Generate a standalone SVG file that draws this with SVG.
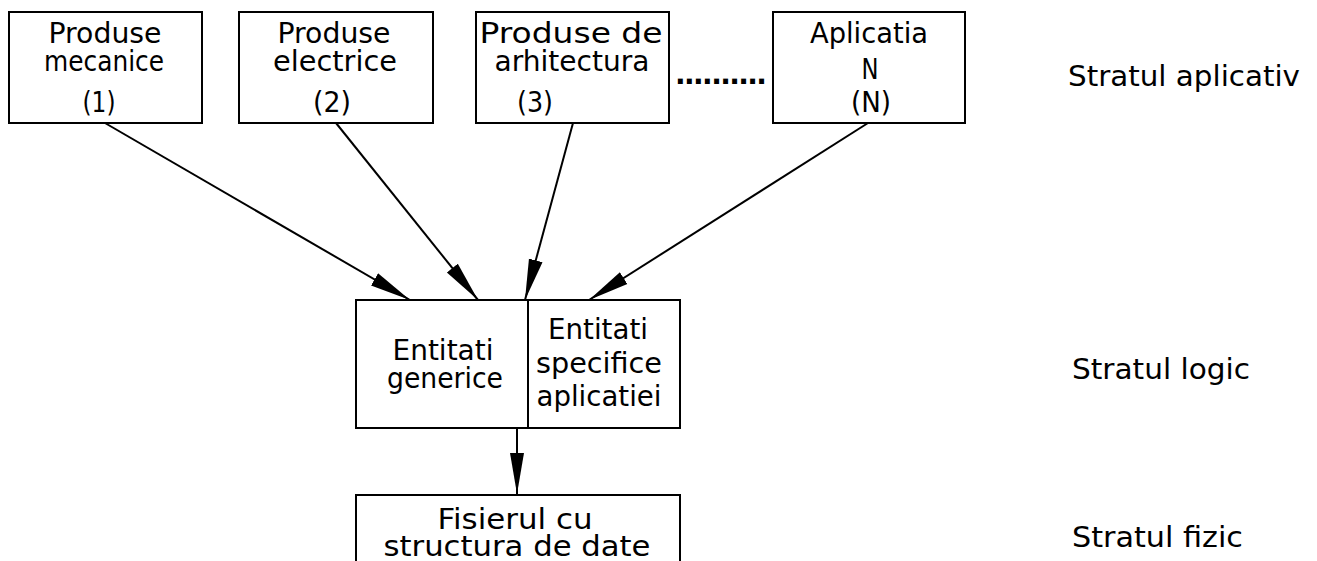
<svg xmlns="http://www.w3.org/2000/svg" width="1317" height="561" viewBox="0 0 1317 561">
  <defs>
    <style>
      .box { fill: #fff; stroke: #000; stroke-width: 2; }
      .lbl { font-family: "DejaVu Sans", "Liberation Sans", sans-serif; font-size: 28px; fill: #000; text-anchor: middle; }
      .side { font-family: "DejaVu Sans", "Liberation Sans", sans-serif; font-size: 28px; fill: #000; }
      .conn { stroke: #000; stroke-width: 2; fill: none; marker-end: url(#head); }
    </style>
    <marker id="head" markerUnits="userSpaceOnUse" markerWidth="42" markerHeight="16" viewBox="0 0 42 16" refX="41" refY="8" orient="auto">
      <path d="M0,1 L41,8 L0,15 Z" fill="#000"/>
    </marker>
  </defs>

  <rect width="1317" height="561" fill="#fff"/>

  <!-- application layer nodes -->
  <g id="app1">
    <rect class="box" x="9" y="12" width="193" height="111"/>
    <text class="lbl" x="105" y="43" textLength="113" lengthAdjust="spacingAndGlyphs">Produse</text>
    <text class="lbl" x="104" y="71" textLength="120" lengthAdjust="spacingAndGlyphs">mecanice</text>
    <text class="lbl" x="99" y="112" textLength="33" lengthAdjust="spacingAndGlyphs">(1)</text>
  </g>
  <g id="app2">
    <rect class="box" x="239" y="12" width="194" height="111"/>
    <text class="lbl" x="334" y="43" textLength="113" lengthAdjust="spacingAndGlyphs">Produse</text>
    <text class="lbl" x="335" y="71" textLength="124" lengthAdjust="spacingAndGlyphs">electrice</text>
    <text class="lbl" x="332" y="112" textLength="38" lengthAdjust="spacingAndGlyphs">(2)</text>
  </g>
  <g id="app3">
    <rect class="box" x="476" y="12" width="193" height="111"/>
    <text class="lbl" x="571" y="43" textLength="183" lengthAdjust="spacingAndGlyphs">Produse de</text>
    <text class="lbl" x="572" y="71" textLength="155" lengthAdjust="spacingAndGlyphs">arhitectura</text>
    <text class="lbl" x="535" y="112" textLength="36" lengthAdjust="spacingAndGlyphs">(3)</text>
  </g>
  <g id="ellipsis">
    <text class="side" x="675" y="84" font-weight="bold" textLength="92" lengthAdjust="spacing">..........</text>
  </g>
  <g id="appN">
    <rect class="box" x="773" y="12" width="192" height="111"/>
    <text class="lbl" x="869" y="43" textLength="118" lengthAdjust="spacingAndGlyphs">Aplicatia</text>
    <text class="lbl" x="870" y="79" textLength="17" lengthAdjust="spacingAndGlyphs">N</text>
    <text class="lbl" x="871" y="112" textLength="40" lengthAdjust="spacingAndGlyphs">(N)</text>
  </g>

  <!-- logical layer node -->
  <g id="logic">
    <rect class="box" x="356" y="300" width="324" height="128"/>
    <line x1="528" y1="300" x2="528" y2="428" stroke="#000" stroke-width="2"/>
    <text class="lbl" x="443" y="360" textLength="101" lengthAdjust="spacingAndGlyphs">Entitati</text>
    <text class="lbl" x="445" y="388" textLength="116" lengthAdjust="spacingAndGlyphs">generice</text>
    <text class="lbl" x="598" y="339" textLength="100" lengthAdjust="spacingAndGlyphs">Entitati</text>
    <text class="lbl" x="599" y="373" textLength="126" lengthAdjust="spacingAndGlyphs">specifice</text>
    <text class="lbl" x="599" y="406" textLength="125" lengthAdjust="spacingAndGlyphs">aplicatiei</text>
  </g>

  <!-- physical layer node -->
  <g id="physical">
    <rect class="box" x="356" y="495" width="324" height="80"/>
    <text class="lbl" x="515" y="529" textLength="155" lengthAdjust="spacingAndGlyphs">Fisierul cu</text>
    <text class="lbl" x="517" y="556" textLength="267" lengthAdjust="spacingAndGlyphs">structura de date</text>
  </g>

  <!-- layer captions -->
  <g id="layers">
    <text class="side" x="1068" y="86" textLength="232" lengthAdjust="spacingAndGlyphs">Stratul aplicativ</text>
    <text class="side" x="1072" y="379" textLength="178" lengthAdjust="spacingAndGlyphs">Stratul logic</text>
    <text class="side" x="1072" y="547" textLength="171" lengthAdjust="spacingAndGlyphs">Stratul fizic</text>
  </g>

  <!-- connectors -->
  <g id="connectors">
    <line class="conn" x1="105" y1="123" x2="410" y2="300"/>
    <line class="conn" x1="336" y1="123" x2="478" y2="300"/>
    <line class="conn" x1="573" y1="123" x2="525" y2="300"/>
    <line class="conn" x1="868" y1="123" x2="589" y2="300"/>
    <line class="conn" x1="517" y1="428" x2="517" y2="494"/>
  </g>
</svg>
